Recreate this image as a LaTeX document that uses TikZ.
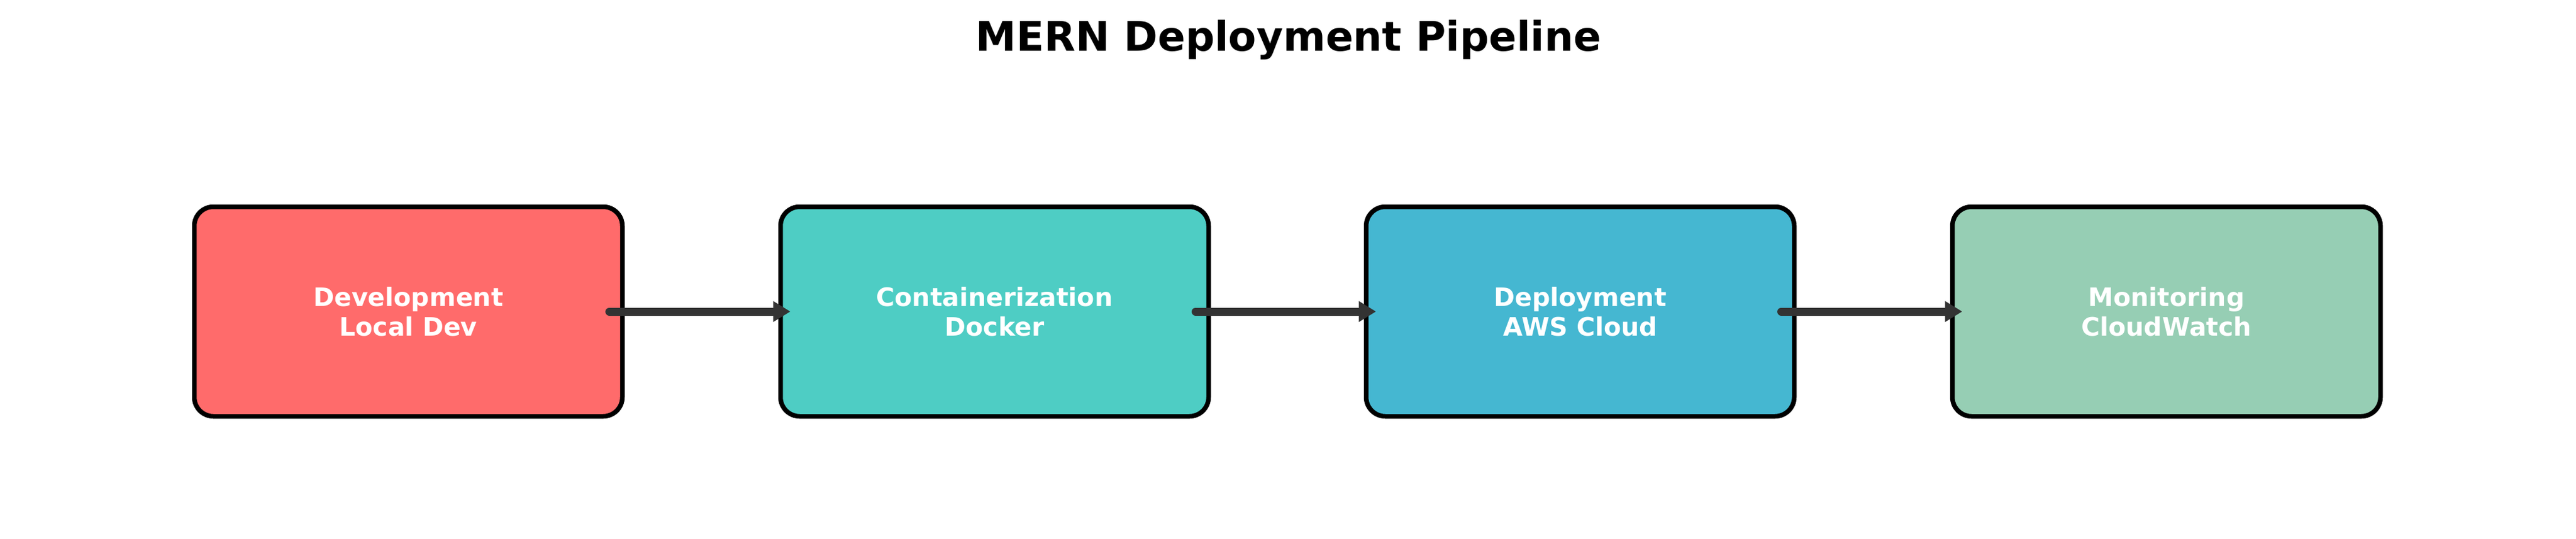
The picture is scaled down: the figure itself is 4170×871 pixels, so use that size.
\documentclass[tikz,border=0pt]{standalone}
\usepackage{fontspec}
\setmainfont{DejaVu Sans}
\usetikzlibrary{arrows.meta}
\definecolor{cdev}{HTML}{FF6B6B}
\definecolor{cdock}{HTML}{4ECDC4}
\definecolor{caws}{HTML}{45B7D1}
\definecolor{cmon}{HTML}{96CEB4}
\definecolor{carrow}{HTML}{333333}
\tikzset{
  stage/.style={draw=black, line width=7.5pt, rounded corners=31pt, outer sep=0pt,
    minimum width=693pt, minimum height=339pt, inner sep=0pt, align=center,
    text=white, font=\bfseries\fontsize{41}{48}\selectfont},
  flow/.style={draw=carrow, line width=13pt, line cap=round,
    -{Triangle[length=28pt,width=32pt]}},
  heading/.style={font=\bfseries\fontsize{66}{79}\selectfont, anchor=base, inner sep=0pt}
}
\begin{document}
\begin{tikzpicture}[x=1pt,y=-1pt]
\useasboundingbox (0,0) rectangle (4170,871);
\node[heading] (title) at (2086,82) {MERN Deployment Pipeline};
\node[stage, fill=cdev]  (dev)  at (661,504)  {Development\\Local Dev};
\node[stage, fill=cdock] (dock) at (1610,504) {Containerization\\Docker};
\node[stage, fill=caws]  (aws)  at (2558,504) {Deployment\\AWS Cloud};
\node[stage, fill=cmon]  (mon)  at (3507,504) {Monitoring\\CloudWatch};
\draw[flow] ([xshift=-21pt]dev.east) -- ([xshift=16pt]dock.west);
\draw[flow] ([xshift=-21pt]dock.east) -- ([xshift=16pt]aws.west);
\draw[flow] ([xshift=-21pt]aws.east) -- ([xshift=16pt]mon.west);
\end{tikzpicture}
\end{document}
